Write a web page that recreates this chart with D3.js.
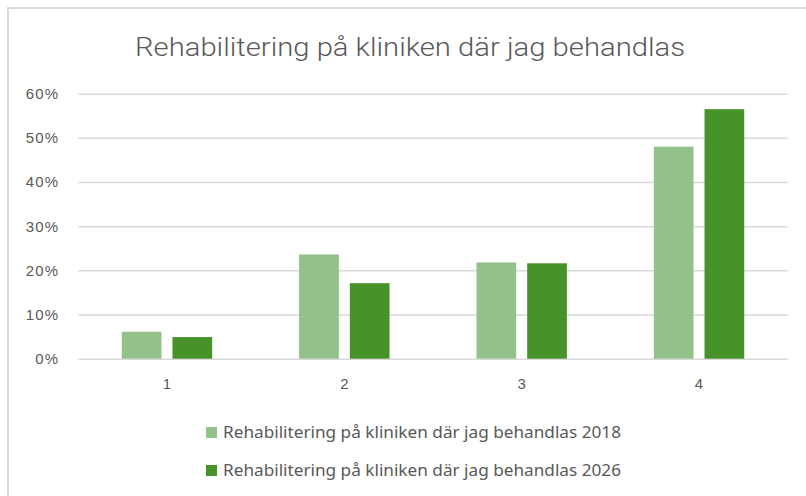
<!DOCTYPE html>
<html>
<head>
<meta charset="utf-8">
<script src="https://cdn.jsdelivr.net/npm/d3@7"></script>
<style>
  html, body { margin: 0; padding: 0; background: #fff; }
  svg { display: block; }
</style>
</head>
<body>
<div id="chart"></div>
<script>
// data
var categories = ['1', '2', '3', '4'];
var seriesNames = ['Rehabilitering på kliniken där jag behandlas 2018',
                   'Rehabilitering på kliniken där jag behandlas 2026'];
var values2018 = [0.061, 0.236, 0.218, 0.480];
var values2026 = [0.049, 0.171, 0.216, 0.565];
var yTicks = [0, 0.1, 0.2, 0.3, 0.4, 0.5, 0.6];
var colors = ['#93c18a', '#479229'];
var title = 'Rehabilitering på kliniken där jag behandlas';

var width = 806, height = 496;
var plot = {left: 78.3, right: 787.7, top: 93.7, bottom: 358.7};

var svg = d3.select('#chart').append('svg')
            .attr('width', width)
            .attr('height', height);

// chart frame (only top + left edges are visible in the shot)
svg.append('path')
   .attr('d', 'M8,496 L8,8 L806,8')
   .attr('fill', 'none')
   .attr('stroke', '#d9d9d9')
   .attr('stroke-width', 2);

svg.append('text')
   .attr('x', 410)
   .attr('y', 56)
   .attr('text-anchor', 'middle')
   .attr('font-family', 'Roboto, "Liberation Sans Narrow", sans-serif')
   .attr('font-weight', 300)
   .attr('font-size', 25)
   .attr('fill', '#595959')
   .attr('textLength', 550)
   .attr('lengthAdjust', 'spacingAndGlyphs')
   .text(title);

var y = d3.scaleLinear().domain([0, 0.6]).range([plot.bottom, plot.top]);
var x0 = d3.scaleBand().domain(categories).range([plot.left, plot.right]);
var groupW = 90.4;
var x1 = d3.scaleBand().domain(d3.range(seriesNames.length))
           .range([(x0.bandwidth() - groupW) / 2, (x0.bandwidth() + groupW) / 2])
           .paddingInner(0.217);

// gridlines
var yAxis = d3.axisLeft(y).tickValues(yTicks)
              .tickSize(-(plot.right - plot.left))
              .tickPadding(19)
              .tickFormat(d3.format('.0%'));
var gy = svg.append('g')
            .attr('transform', 'translate(' + plot.left + ',0)')
            .call(yAxis);
gy.select('.domain').remove();
gy.selectAll('line').attr('stroke', '#d9d9d9').attr('stroke-width', 1.5);
gy.selectAll('text')
  .attr('font-family', 'Arial, "Liberation Sans", sans-serif')
  .attr('font-size', 15)
  .attr('letter-spacing', 1.2)
  .attr('fill', '#595959');

// bars
var series = [values2018, values2026];
var groups = svg.append('g').selectAll('g')
    .data(categories)
    .enter().append('g')
    .attr('transform', function(d){ return 'translate(' + x0(d) + ',0)'; });

groups.selectAll('rect')
    .data(function(d, i){ return series.map(function(s, k){ return {k: k, v: s[i]}; }); })
    .enter().append('rect')
    .attr('x', function(d){ return x1(d.k); })
    .attr('width', x1.bandwidth())
    .attr('y', function(d){ return y(d.v); })
    .attr('height', function(d){ return y(0) - y(d.v); })
    .attr('fill', function(d){ return colors[d.k]; });

// x axis labels
var xAxis = d3.axisBottom(x0).tickSize(0).tickPadding(20);
var gx = svg.append('g')
            .attr('transform', 'translate(0,' + plot.bottom + ')')
            .call(xAxis);
gx.select('.domain').remove();
gx.selectAll('text')
  .attr('font-family', 'Arial, "Liberation Sans", sans-serif')
  .attr('font-size', 15)
  .attr('fill', '#595959');

// legend
var legend = svg.append('g').selectAll('g')
    .data(seriesNames)
    .enter().append('g')
    .attr('transform', function(d, i){ return 'translate(206,' + (427 + i * 38) + ')'; });
legend.append('rect')
    .attr('width', 11).attr('height', 11)
    .attr('fill', function(d, i){ return colors[i]; });
legend.append('text')
    .attr('x', 17)
    .attr('y', 11)
    .attr('font-family', '"Noto Sans", "Open Sans", sans-serif')
    .attr('font-size', 16)
    .attr('fill', '#595959')
    .attr('textLength', 398)
    .attr('lengthAdjust', 'spacingAndGlyphs')
    .text(function(d){ return d; });
</script>
</body>
</html>
